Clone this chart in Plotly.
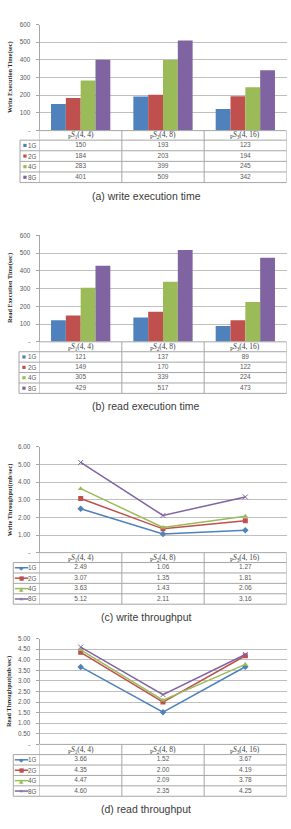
import plotly.graph_objects as go

W, H = 291, 829

categories = ["S1(4,4)", "S2(4,8)", "S3(4,16)"]
header_labels = [
    "<sub>P</sub><i>S</i><sub>1</sub>(4, 4)",
    "<sub>P</sub><i>S</i><sub>2</sub>(4, 8)",
    "<sub>P</sub><i>S</i><sub>3</sub>(4, 16)",
]
series_names = ["1G", "2G", "4G", "8G"]
colors = ["#4F81BD", "#C0504D", "#9BBB59", "#8064A2"]
line_symbols = ["diamond", "square", "triangle-up", "x-thin"]

# (a) write execution time (sec)
write_time_1g = [150, 193, 123]
write_time_2g = [184, 203, 194]
write_time_4g = [283, 399, 245]
write_time_8g = [401, 509, 342]

# (b) read execution time (sec)
read_time_1g = [121, 137, 89]
read_time_2g = [149, 170, 122]
read_time_4g = [305, 339, 224]
read_time_8g = [429, 517, 473]

# (c) write throughput (mb/sec)
write_tp_1g = [2.49, 1.06, 1.27]
write_tp_2g = [3.07, 1.35, 1.81]
write_tp_4g = [3.63, 1.43, 2.06]
write_tp_8g = [5.12, 2.11, 3.16]

# (d) read throughput (mb/sec)
read_tp_1g = [3.66, 1.52, 3.67]
read_tp_2g = [4.35, 2.00, 4.19]
read_tp_4g = [4.47, 2.09, 3.78]
read_tp_8g = [4.60, 2.35, 4.25]

time_ticks = [0, 100, 200, 300, 400, 500, 600]
time_ticktext = ["-", "100", "200", "300", "400", "500", "600"]
wtp_ticks = [0, 1, 2, 3, 4, 5, 6]
wtp_ticktext = ["-", "1.00", "2.00", "3.00", "4.00", "5.00", "6.00"]
rtp_ticks = [0, 0.5, 1, 1.5, 2, 2.5, 3, 3.5, 4, 4.5, 5]
rtp_ticktext = ["-", "0.50", "1.00", "1.50", "2.00", "2.50", "3.00", "3.50", "4.00", "4.50", "5.00"]


def px(x):
    return x / W


def py(y):
    return 1 - y / H


X_LEFT, X_RIGHT = 39.5, 286.5

panels = [
    dict(kind="bar", data=[write_time_1g, write_time_2g, write_time_4g, write_time_8g],
         top=20.7, bottom=127.7, hdr=137.3, rowh=10.7, tleft=20.0,
         yrange=[0, 600], tickvals=time_ticks, ticktext=time_ticktext, fmt="{:d}",
         title="Write Execution Time(sec)", caption="(a) write execution time", cap_y=193.5),
    dict(kind="bar", data=[read_time_1g, read_time_2g, read_time_4g, read_time_8g],
         top=233.3, bottom=340.7, hdr=350.7, rowh=10.5, tleft=19.0,
         yrange=[0, 600], tickvals=time_ticks, ticktext=time_ticktext, fmt="{:d}",
         title="Read Execution Time(sec)", caption="(b) read execution time", cap_y=405.5),
    dict(kind="line", data=[write_tp_1g, write_tp_2g, write_tp_4g, write_tp_8g],
         top=446.7, bottom=553.3, hdr=563.3, rowh=10.5, tleft=13.3,
         yrange=[0, 6], tickvals=wtp_ticks, ticktext=wtp_ticktext, fmt="{:.2f}",
         title="Write Throughput(mb/sec)", caption="(c) write throughput", cap_y=618.5),
    dict(kind="line", data=[read_tp_1g, read_tp_2g, read_tp_4g, read_tp_8g],
         top=640.0, bottom=746.7, hdr=757.0, rowh=10.5, tleft=13.3,
         yrange=[0, 5], tickvals=rtp_ticks, ticktext=rtp_ticktext, fmt="{:.2f}",
         title="Read Throughput(mb/sec)", caption="(d) read throughput", cap_y=811.5),
]

GRID = "#BFBFBF"
TBL = "#A6A6A6"
TXT = "#595959"
SMALL = 6.3

fig = go.Figure()
shapes = []
annotations = []
layout = {}
NP = len(panels)

for i, p in enumerate(panels, start=1):
    xa = "x" if i == 1 else f"x{i}"
    ya = "y" if i == 1 else f"y{i}"
    yt = f"y{i + NP}"
    xkey = "xaxis" if i == 1 else f"xaxis{i}"
    ykey = "yaxis" if i == 1 else f"yaxis{i}"
    ytkey = f"yaxis{i + NP}"

    for s, (name, vals) in enumerate(zip(series_names, p["data"])):
        if p["kind"] == "bar":
            fig.add_trace(go.Bar(x=categories, y=vals, name=name, marker_color=colors[s],
                                 marker_line_width=0, xaxis=xa, yaxis=ya, showlegend=False))
        else:
            fig.add_trace(go.Scatter(x=categories, y=vals, name=name, mode="lines+markers",
                                     line=dict(color=colors[s], width=1.5),
                                     marker=dict(symbol=line_symbols[s], size=5,
                                                 color=colors[s],
                                                 line=dict(color=colors[s], width=1.0 if s == 3 else 0)),
                                     xaxis=xa, yaxis=ya, showlegend=False))
        # data table row, drawn as text through the category axis and a row axis
        fig.add_trace(go.Scatter(x=categories, y=[s] * len(vals), mode="text",
                                 text=[p["fmt"].format(v) for v in vals],
                                 textposition="middle center",
                                 textfont=dict(family="Liberation Sans", size=6.5, color=TXT),
                                 xaxis=xa, yaxis=yt, showlegend=False, hoverinfo="skip"))

    tb = p["hdr"] + 4 * p["rowh"]
    layout[xkey] = dict(domain=[px(X_LEFT), px(X_RIGHT)], anchor=ya, type="category",
                        range=[-0.5, 2.5], showticklabels=False, showgrid=False,
                        zeroline=False, showline=False, ticks="")
    layout[ykey] = dict(domain=[py(p["bottom"]), py(p["top"])], anchor=xa, range=p["yrange"],
                        tickvals=p["tickvals"], ticktext=p["ticktext"], showgrid=True,
                        gridcolor=GRID, gridwidth=1, zeroline=False, showline=True,
                        linecolor=TBL, linewidth=1, ticks="outside", ticklen=3, tickcolor=TBL,
                        tickfont=dict(family="Liberation Sans", size=SMALL, color=TXT),
                        ticklabelstandoff=4)
    layout[ytkey] = dict(domain=[py(tb), py(p["hdr"])], anchor=xa, range=[3.5, -0.5],
                         visible=False, showgrid=False, zeroline=False)

    # y axis title
    annotations.append(dict(text=f"<b>{p['title']}</b>", xref="paper", yref="paper",
                            x=px(9.5), y=py((p["top"] + p["bottom"]) / 2), textangle=-90,
                            showarrow=False, xanchor="center", yanchor="middle",
                            font=dict(family="Liberation Serif", size=SMALL, color="#222222")))

    # horizontal lines of the table
    shapes.append(dict(type="line", xref=xa, yref="paper", x0=-0.5, x1=2.5,
                       y0=py(p["bottom"]), y1=py(p["bottom"]), line=dict(color=TBL, width=1)))
    for r in range(5):
        yy = p["hdr"] + r * p["rowh"]
        shapes.append(dict(type="line", xref="paper", yref="paper", x0=px(p["tleft"]), x1=px(X_RIGHT),
                           y0=py(yy), y1=py(yy), line=dict(color=TBL, width=1)))
    # vertical lines
    for b in [-0.5, 0.5, 1.5, 2.5]:
        shapes.append(dict(type="line", xref=xa, yref="paper", x0=b, x1=b,
                           y0=py(p["bottom"]), y1=py(tb), line=dict(color=TBL, width=1)))
    shapes.append(dict(type="line", xref="paper", yref="paper", x0=px(p["tleft"]), x1=px(p["tleft"]),
                       y0=py(p["hdr"]), y1=py(tb), line=dict(color=TBL, width=1)))

    # header labels
    for c, lab in enumerate(header_labels):
        annotations.append(dict(text=lab, xref=xa, yref="paper", x=categories[c],
                                y=py((p["bottom"] + p["hdr"]) / 2), showarrow=False,
                                xanchor="center", yanchor="middle",
                                font=dict(family="Liberation Serif", size=7.5, color="#404040")))
    # legend keys
    for s, name in enumerate(series_names):
        yc = p["hdr"] + (s + 0.5) * p["rowh"]
        annotations.append(dict(text=name, xref="paper", yref="paper", x=px(38.5), y=py(yc),
                                showarrow=False, xanchor="right", yanchor="middle",
                                font=dict(family="Liberation Sans", size=SMALL, color=TXT)))
        if p["kind"] == "bar":
            shapes.append(dict(type="rect", xref="paper", yref="paper",
                               x0=px(p["tleft"] + 3.3), x1=px(p["tleft"] + 6.6),
                               y0=py(yc - 1.6), y1=py(yc + 1.6),
                               fillcolor=colors[s], line=dict(width=0)))
        else:
            shapes.append(dict(type="line", xref="paper", yref="paper",
                               x0=px(p["tleft"] + 1.5), x1=px(p["tleft"] + 15),
                               y0=py(yc), y1=py(yc), line=dict(color=colors[s], width=1.5)))
            glyph = ["\u25C6", "\u25A0", "\u25B2", "\u00D7"][s]
            annotations.append(dict(text=glyph, xref="paper", yref="paper",
                                    x=px(p["tleft"] + 8.2), y=py(yc), showarrow=False,
                                    xanchor="center", yanchor="middle",
                                    font=dict(family="DejaVu Sans", size=5.6, color=colors[s])))

    # caption
    annotations.append(dict(text=p["caption"], xref="paper", yref="paper", x=px(146), y=py(p["cap_y"]),
                            showarrow=False, xanchor="center", yanchor="middle",
                            font=dict(family="Liberation Sans", size=10.5, color="#3A3A3A")))

fig.update_layout(
    width=W, height=H, margin=dict(l=0, r=0, t=0, b=0),
    paper_bgcolor="white", plot_bgcolor="white",
    barmode="group", bargap=0.28, bargroupgap=0,
    showlegend=False, shapes=shapes, annotations=annotations,
    **layout,
)

fig.write_html("out.html")
